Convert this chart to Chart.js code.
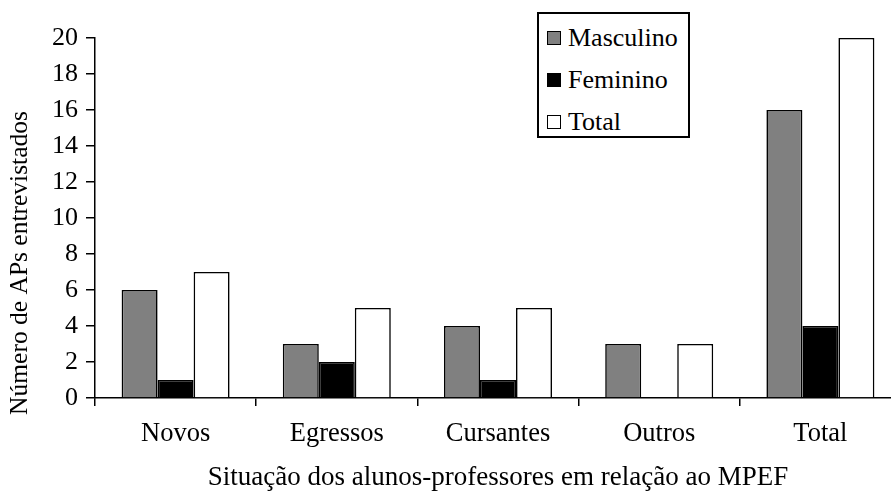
<!DOCTYPE html>
<html lang="pt">
<head>
  <meta charset="UTF-8" />
  <title>Número de APs entrevistados</title>
  <script src="https://cdn.jsdelivr.net/npm/chart.js"></script>
  <style>
    body {
      margin: 0;
      width: 891px;
      height: 494px;
      overflow: hidden;
      background: #fff;
      font-family: 'Liberation Serif', 'Times New Roman', serif;
    }
    .wrap { position: relative; width: 910px; height: 494px; }
    #legend {
      position: absolute;
      left: 537px;
      top: 12px;
      width: 153px;
      height: 126px;
      border: 2px solid #000;
      background: #fff;
      box-sizing: border-box;
      padding-top: 3px;
    }
    #legend .item {
      display: flex;
      align-items: center;
      height: 42px;
      font-size: 26px;
      line-height: 1;
      color: #000;
    }
    #legend .box {
      width: 12px;
      height: 12px;
      border: 1.5px solid #000;
      margin: 0 7px 0 8px;
    }
  </style>
</head>
<body>
  <div class="wrap">
    <canvas id="chart" width="910" height="494"></canvas>
    <div id="legend"></div>
  </div>
  <script>
    const categories = ['Novos', 'Egressos', 'Cursantes', 'Outros', 'Total']
    const masculino = [6, 3, 4, 3, 16]
    const feminino = [1, 2, 1, 0, 4]
    const total = [7, 5, 5, 3, 20]
    const seriesNames = ['Masculino', 'Feminino', 'Total']
    const seriesColors = ['#808080', '#000000', '#ffffff']
    const xTitle = 'Situação dos alunos-professores em relação ao MPEF'
    const yTitle = 'Número de APs entrevistados'

    const font = "'Liberation Serif', 'Times New Roman', serif"

    // axis titles: x centred under the plot, y centred on the whole picture height
    const axisTitles = {
      id: 'axisTitles',
      afterDraw(chart) {
        const ctx = chart.ctx
        const area = chart.chartArea
        ctx.save()
        ctx.fillStyle = '#000'
        ctx.textAlign = 'center'
        ctx.textBaseline = 'middle'
        ctx.font = '27px ' + font
        ctx.fillText(xTitle, (area.left + area.right) / 2, 478)
        ctx.font = '25.5px ' + font
        ctx.translate(20, 263)
        ctx.rotate(-Math.PI / 2)
        ctx.fillText(yTitle, 0, 0)
        ctx.restore()
      }
    }

    const datasets = [masculino, feminino, total].map((data, i) => ({
      label: seriesNames[i],
      data: data,
      backgroundColor: seriesColors[i],
      borderColor: '#000',
      borderWidth: 1.6,
      categoryPercentage: 0.67,
      barPercentage: 1.0
    }))

    new Chart(document.getElementById('chart'), {
      type: 'bar',
      data: { labels: categories, datasets: datasets },
      plugins: [axisTitles],
      options: {
        responsive: false,
        animation: false,
        layout: { padding: { top: 38, right: 9, left: 0, bottom: 0 } },
        plugins: {
          legend: { display: false },
          tooltip: { enabled: false }
        },
        scales: {
          x: {
            offset: true,
            afterFit: (scale) => { scale.height = 96 },
            border: { color: '#000', width: 1.5 },
            grid: {
              offset: true,
              drawOnChartArea: false,
              color: '#000',
              lineWidth: 1.5,
              tickLength: 8
            },
            ticks: {
              color: '#000',
              padding: 12,
              font: { family: font, size: 26.5 }
            }
          },
          y: {
            min: 0,
            max: 20,
            afterFit: (scale) => { scale.width = 95 },
            border: { color: '#000', width: 1.5 },
            grid: {
              drawOnChartArea: false,
              color: '#000',
              lineWidth: 1.5,
              tickLength: 9
            },
            ticks: {
              stepSize: 2,
              color: '#000',
              padding: 8,
              font: { family: font, size: 26 }
            }
          }
        }
      }
    })

    // legend box drawn as html, built from the series arrays
    const legendEl = document.getElementById('legend')
    seriesNames.forEach((name, i) => {
      const item = document.createElement('div')
      item.className = 'item'
      const box = document.createElement('span')
      box.className = 'box'
      box.style.background = seriesColors[i]
      item.appendChild(box)
      item.appendChild(document.createTextNode(name))
      legendEl.appendChild(item)
    })
  </script>
</body>
</html>
